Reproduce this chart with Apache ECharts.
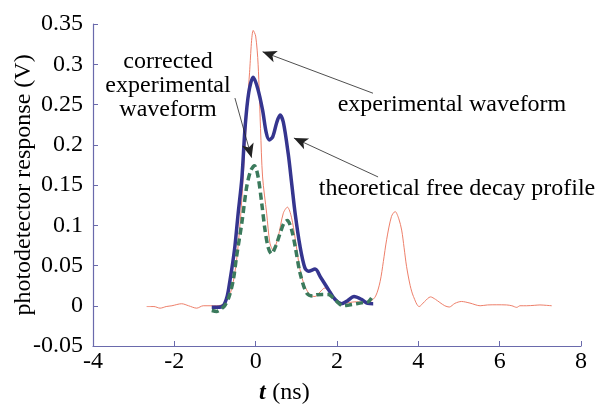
<!DOCTYPE html>
<html>
<head>
<meta charset="utf-8">
<script src="https://cdn.jsdelivr.net/npm/echarts@6/dist/echarts.min.js"></script>
<style>
html,body{margin:0;padding:0;background:#fff;}
#chart{width:599px;height:406px;}
</style>
</head>
<body>
<div id="chart"></div>
<script>
// ---- data ----
const xTicks = [-4, -2, 0, 2, 4, 6, 8];
const yTicks = [-0.05, 0, 0.05, 0.1, 0.15, 0.2, 0.25, 0.3, 0.35];

// experimental waveform (thin red)
const expT = [-2.68,-2.5,-2.35,-2.2,-2.06,-1.82,-1.65,-1.45,-1.29,-1.1,-0.96,-0.8,-0.65,-0.55,-0.45,-0.35,-0.25,-0.15,-0.06,0.0,0.06,0.12,0.17,0.27,0.35,0.43,0.55,0.68,0.78,0.88,0.97,1.09,1.21,1.35,1.46,1.58,1.7,1.8,1.91,2.05,2.15,2.3,2.48,2.65,2.81,2.95,3.06,3.14,3.22,3.34,3.43,3.52,3.59,3.65,3.71,3.8,3.88,4.02,4.15,4.3,4.42,4.53,4.65,4.76,4.9,5.06,5.27,5.52,5.7,5.93,6.17,6.3,6.42,6.5,6.66,6.85,6.99,7.15,7.28];
const expV = [-0.001,-0.001,-0.003,-0.001,0.0,0.0025,0.0,-0.003,0.0,0.0,0.0,0.002,0.012,0.03,0.065,0.125,0.21,0.29,0.342,0.335,0.3,0.22,0.16,0.115,0.078,0.069,0.085,0.115,0.1225,0.11,0.084,0.045,0.024,0.013,0.0115,0.017,0.022,0.018,0.0115,0.005,0.003,0.004,0.005,0.004,0.005,0.012,0.03,0.055,0.082,0.111,0.117,0.108,0.094,0.072,0.049,0.025,0.0115,-0.001,0.005,0.011,0.008,0.004,0.0,-0.0016,0.003,0.0053,0.0033,0.0,0.001,0.0012,0.001,0.0,-0.002,0.0,0.0,0.0005,0.001,0.0005,0.0];

// theoretical free decay profile (thick blue)
const theoT = [-1.08,-0.95,-0.8,-0.7,-0.63,-0.56,-0.51,-0.43,-0.34,-0.26,-0.17,-0.06,0.05,0.17,0.26,0.335,0.42,0.52,0.6,0.68,0.8,0.89,0.97,1.09,1.21,1.3,1.46,1.6,1.79,1.95,2.11,2.25,2.42,2.6,2.75,2.89];
const theoV = [-0.002,-0.002,0.0,0.012,0.032,0.055,0.074,0.115,0.158,0.222,0.265,0.284,0.27,0.243,0.215,0.206,0.21,0.228,0.237,0.228,0.189,0.15,0.115,0.074,0.047,0.043,0.0455,0.035,0.02,0.008,0.0025,0.006,0.0115,0.008,0.003,0.0025];

// corrected experimental waveform (green dashed)
const corrT = [-1.08,-0.96,-0.85,-0.75,-0.65,-0.55,-0.47,-0.34,-0.22,-0.12,-0.03,0.06,0.15,0.23,0.31,0.39,0.5,0.6,0.7,0.78,0.88,0.97,1.09,1.25,1.4,1.5,1.65,1.79,1.95,2.15,2.3,2.48,2.65,2.77,2.85];
const corrV = [-0.006,-0.007,-0.004,0.001,0.012,0.032,0.061,0.103,0.148,0.168,0.174,0.16,0.127,0.094,0.072,0.0645,0.075,0.09,0.103,0.106,0.095,0.074,0.041,0.016,0.012,0.0136,0.014,0.014,0.0075,0.0,0.001,0.0025,0.004,0.005,0.0095];

// annotation arrows: [fromT, fromV, toT, toV]
const arrowCorr = [-0.51, 0.258, -0.10, 0.184];
const arrowExp = [2.885, 0.264, 0.17, 0.3155];
const arrowTheo = [3.01, 0.160, 0.94, 0.2084];

// ---- chart ----
const zip = (a, b) => a.map((v, i) => [v, b[i]]);
const FONT = 'Liberation Serif, DejaVu Serif, serif';
const AXIS_COLOR = '#6a6aac';

const arrowData = [arrowCorr, arrowExp, arrowTheo].map(a => [
  { coord: [a[0], a[1]], symbol: 'none' },
  { coord: [a[2], a[3]], symbol: 'arrow', symbolSize: [9, 14] }
]);

const chart = echarts.init(document.getElementById('chart'), null, { renderer: 'canvas' });
chart.setOption({
  animation: false,
  backgroundColor: '#fff',
  textStyle: { fontFamily: FONT },
  grid: { left: 93, right: 18, top: 24, bottom: 60, containLabel: false, outerBoundsMode: 'none' },
  xAxis: {
    type: 'value',
    min: xTicks[0], max: xTicks[xTicks.length - 1], interval: 2,
    axisLine: { show: true, onZero: false, lineStyle: { color: AXIS_COLOR, width: 1.2 } },
    axisTick: { show: true, inside: true, length: 5, lineStyle: { color: AXIS_COLOR } },
    splitLine: { show: false },
    axisLabel: { color: '#000', fontFamily: FONT, fontSize: 24, margin: 4 }
  },
  yAxis: {
    type: 'value',
    min: yTicks[0], max: yTicks[yTicks.length - 1], interval: 0.05,
    axisLine: { show: true, onZero: false, lineStyle: { color: AXIS_COLOR, width: 1.2 } },
    axisTick: { show: true, inside: true, length: 5, lineStyle: { color: AXIS_COLOR } },
    splitLine: { show: false },
    axisLabel: {
      color: '#000', fontFamily: FONT, fontSize: 24, margin: 10,
      formatter: v => String(Number(v.toFixed(2)))
    },
    name: 'photodetector response (V)',
    nameLocation: 'middle',
    nameGap: 57,
    nameMoveOverlap: false,
    nameTextStyle: { color: '#000', fontFamily: FONT, fontSize: 24 }
  },
  series: [
    {
      name: 'experimental waveform', type: 'line', data: zip(expT, expV),
      showSymbol: false, smooth: 0.3,
      lineStyle: { color: '#ee7f6a', width: 1 }, z: 2
    },
    {
      name: 'theoretical free decay profile', type: 'line', data: zip(theoT, theoV),
      showSymbol: false, smooth: 0.3,
      lineStyle: { color: '#35358f', width: 3.5 }, z: 3
    },
    {
      name: 'corrected experimental waveform', type: 'line', data: zip(corrT, corrV),
      showSymbol: false, smooth: 0.3,
      lineStyle: { color: '#3b7a5c', width: 3.5, type: [7, 4] }, z: 4,
      markLine: {
        silent: true, animation: false,
        label: { show: false },
        lineStyle: { color: '#222', width: 0.8, type: 'solid' },
        emphasis: { disabled: true },
        data: arrowData
      }
    }
  ],
  graphic: [
    {
      type: 'text', x: 168, y: 86, z: 10,
      style: { text: 'corrected\nexperimental\nwaveform', fill: '#000', fontFamily: FONT, fontSize: 24, align: 'center', verticalAlign: 'middle', lineHeight: 24 }
    },
    {
      type: 'text', x: 452, y: 105, z: 10,
      style: { text: 'experimental waveform', fill: '#000', fontFamily: FONT, fontSize: 24, align: 'center', verticalAlign: 'middle' }
    },
    {
      type: 'text', x: 457, y: 189, z: 10,
      style: { text: 'theoretical free decay profile', fill: '#000', fontFamily: FONT, fontSize: 24, align: 'center', verticalAlign: 'middle' }
    },
    {
      type: 'text', x: 259, y: 393, z: 10,
      style: {
        text: '{t|t}  {n|(ns)}', verticalAlign: 'middle', fill: '#000',
        rich: {
          t: { fontFamily: FONT, fontSize: 24, fontWeight: 'bold', fontStyle: 'italic', fill: '#000' },
          n: { fontFamily: FONT, fontSize: 24, fill: '#000' }
        }
      }
    }
  ]
});
</script>
</body>
</html>
